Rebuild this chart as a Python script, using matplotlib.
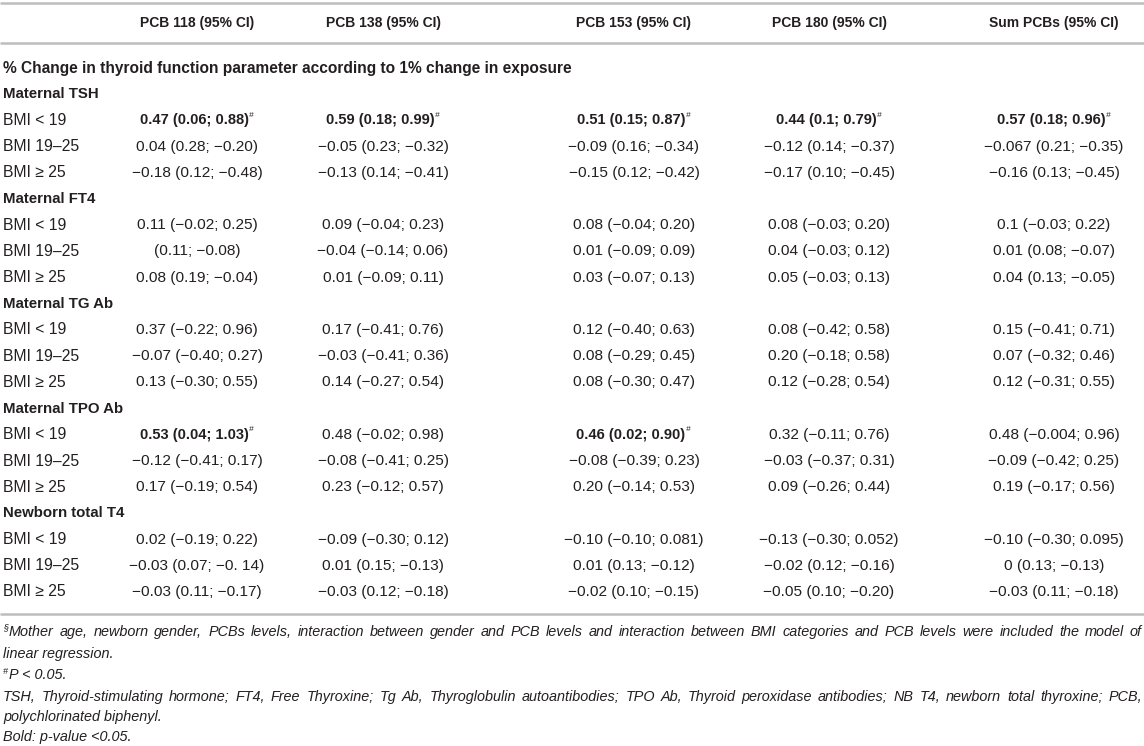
import matplotlib
matplotlib.use("Agg")
import matplotlib.pyplot as plt

columns = ["PCB 118 (95% CI)", "PCB 138 (95% CI)", "PCB 153 (95% CI)",
           "PCB 180 (95% CI)", "Sum PCBs (95% CI)"]
section_title = "% Change in thyroid function parameter according to 1% change in exposure"
groups = ["Maternal TSH", "Maternal FT4", "Maternal TG Ab", "Maternal TPO Ab", "Newborn total T4"]
bmi_labels = ["BMI < 19", "BMI 19\u201325", "BMI \u2265 25"]

# one list per column, 3 rows per group (5 groups)
pcb118 = ["0.47 (0.06; 0.88)", "0.04 (0.28; \u22120.20)", "\u22120.18 (0.12; \u22120.48)",
          "0.11 (\u22120.02; 0.25)", "(0.11; \u22120.08)", "0.08 (0.19; \u22120.04)",
          "0.37 (\u22120.22; 0.96)", "\u22120.07 (\u22120.40; 0.27)", "0.13 (\u22120.30; 0.55)",
          "0.53 (0.04; 1.03)", "\u22120.12 (\u22120.41; 0.17)", "0.17 (\u22120.19; 0.54)",
          "0.02 (\u22120.19; 0.22)", "\u22120.03 (0.07; \u22120. 14)", "\u22120.03 (0.11; \u22120.17)"]
pcb138 = ["0.59 (0.18; 0.99)", "\u22120.05 (0.23; \u22120.32)", "\u22120.13 (0.14; \u22120.41)",
          "0.09 (\u22120.04; 0.23)", "\u22120.04 (\u22120.14; 0.06)", "0.01 (\u22120.09; 0.11)",
          "0.17 (\u22120.41; 0.76)", "\u22120.03 (\u22120.41; 0.36)", "0.14 (\u22120.27; 0.54)",
          "0.48 (\u22120.02; 0.98)", "\u22120.08 (\u22120.41; 0.25)", "0.23 (\u22120.12; 0.57)",
          "\u22120.09 (\u22120.30; 0.12)", "0.01 (0.15; \u22120.13)", "\u22120.03 (0.12; \u22120.18)"]
pcb153 = ["0.51 (0.15; 0.87)", "\u22120.09 (0.16; \u22120.34)", "\u22120.15 (0.12; \u22120.42)",
          "0.08 (\u22120.04; 0.20)", "0.01 (\u22120.09; 0.09)", "0.03 (\u22120.07; 0.13)",
          "0.12 (\u22120.40; 0.63)", "0.08 (\u22120.29; 0.45)", "0.08 (\u22120.30; 0.47)",
          "0.46 (0.02; 0.90)", "\u22120.08 (\u22120.39; 0.23)", "0.20 (\u22120.14; 0.53)",
          "\u22120.10 (\u22120.10; 0.081)", "0.01 (0.13; \u22120.12)", "\u22120.02 (0.10; \u22120.15)"]
pcb180 = ["0.44 (0.1; 0.79)", "\u22120.12 (0.14; \u22120.37)", "\u22120.17 (0.10; \u22120.45)",
          "0.08 (\u22120.03; 0.20)", "0.04 (\u22120.03; 0.12)", "0.05 (\u22120.03; 0.13)",
          "0.08 (\u22120.42; 0.58)", "0.20 (\u22120.18; 0.58)", "0.12 (\u22120.28; 0.54)",
          "0.32 (\u22120.11; 0.76)", "\u22120.03 (\u22120.37; 0.31)", "0.09 (\u22120.26; 0.44)",
          "\u22120.13 (\u22120.30; 0.052)", "\u22120.02 (0.12; \u22120.16)", "\u22120.05 (0.10; \u22120.20)"]
sum_pcbs = ["0.57 (0.18; 0.96)", "\u22120.067 (0.21; \u22120.35)", "\u22120.16 (0.13; \u22120.45)",
            "0.1 (\u22120.03; 0.22)", "0.01 (0.08; \u22120.07)", "0.04 (0.13; \u22120.05)",
            "0.15 (\u22120.41; 0.71)", "0.07 (\u22120.32; 0.46)", "0.12 (\u22120.31; 0.55)",
            "0.48 (\u22120.004; 0.96)", "\u22120.09 (\u22120.42; 0.25)", "0.19 (\u22120.17; 0.56)",
            "\u22120.10 (\u22120.30; 0.095)", "0 (0.13; \u22120.13)", "\u22120.03 (0.11; \u22120.18)"]
cells = [pcb118, pcb138, pcb153, pcb180, sum_pcbs]

# significant cells (row index, column index) -> bold with '#'
significant = [(0, 0), (0, 1), (0, 2), (0, 3), (0, 4), (9, 0), (9, 2)]

footnotes = [
    ("\u00a7", "Mother age, newborn gender, PCBs levels, interaction between gender and PCB levels and "
               "interaction between BMI categories and PCB levels were included the model of", True),
    ("", "linear regression.", False),
    ("#", "P < 0.05.", False),
    ("", "TSH, Thyroid-stimulating hormone; FT4, Free Thyroxine; Tg Ab, Thyroglobulin autoantibodies; "
         "TPO Ab, Thyroid peroxidase antibodies; NB T4, newborn total thyroxine; PCB,", True),
    ("", "polychlorinated biphenyl.", False),
    ("", "Bold: p-value <0.05.", False),
]

W, H = 1144, 746
TXT = "#231f20"
LINE = "#bdbdbd"
BODY = ["Liberation Sans", "DejaVu Sans"]
NOTE = ["Liberation Sans Narrow", "Liberation Sans", "DejaVu Sans"]

fig = plt.figure(figsize=(W / 100, H / 100), dpi=100)
ax = fig.add_axes([0, 0, 1, 1])
ax.set_xlim(0, W)
ax.set_ylim(H, 0)
ax.axis("off")

col_x = [197, 383, 634, 829, 1054]
label_x = 3
row0, step = 68, 26.2

for y in (3, 43, 614):
    ax.plot([0, W], [y, y], color=LINE, lw=1.8, solid_capstyle="butt")

for x, name in zip(col_x, columns):
    ax.text(x, 23, name, ha="center", va="center", fontsize=10,
            fontweight="bold", family=BODY, color=TXT)

ax.text(label_x, row0, section_title, ha="left", va="center", fontsize=11.2,
        fontweight="bold", family=BODY, color=TXT)

line = 1
for g, group in enumerate(groups):
    y = row0 + line * step
    ax.text(label_x, y, group, ha="left", va="center", fontsize=10.8,
            fontweight="bold", family=BODY, color=TXT)
    line += 1
    for k, lab in enumerate(bmi_labels):
        y = row0 + line * step
        r = g * 3 + k
        ax.text(label_x, y, lab, ha="left", va="center", fontsize=11.3,
                family=BODY, color=TXT)
        for c, x in enumerate(col_x):
            if (r, c) in significant:
                t = ax.text(x - 3, y, cells[c][r], ha="center", va="center",
                            fontsize=10.5, fontweight="bold", family=BODY, color=TXT)
                ax.annotate("#", xy=(1, 1), xycoords=t, xytext=(0.5, 1),
                            textcoords="offset points", ha="left", va="top",
                            fontsize=6, style="italic", family=BODY, color=TXT)
            else:
                ax.text(x, y, cells[c][r], ha="center", va="center",
                        fontsize=11.1, family=BODY, color=TXT)
        line += 1

# footnotes (italic, condensed, some lines justified)
fig.canvas.draw()
renderer = fig.canvas.get_renderer()
note_y = [632, 654, 675, 697, 717, 737]
for (sup, text, justify), y in zip(footnotes, note_y):
    x0 = label_x
    if sup:
        s = ax.text(x0, y - 4, sup, ha="left", va="center", fontsize=6.5,
                    style="italic", family=NOTE, color=TXT)
        x0 += s.get_window_extent(renderer).width + 1
    if not justify:
        ax.text(x0, y, text, ha="left", va="center", fontsize=10.4,
                style="italic", family=NOTE, color=TXT)
        continue
    words = text.split(" ")
    arts = [ax.text(x0, y, w, ha="left", va="center", fontsize=10.4,
                    style="italic", family=NOTE, color=TXT) for w in words]
    widths = [a.get_window_extent(renderer).width for a in arts]
    gap = (W - 2 - x0 - sum(widths)) / (len(words) - 1)
    x = x0
    for a, w in zip(arts, widths):
        a.set_x(x)
        x += w + gap

fig.savefig("out.png", dpi=100)
